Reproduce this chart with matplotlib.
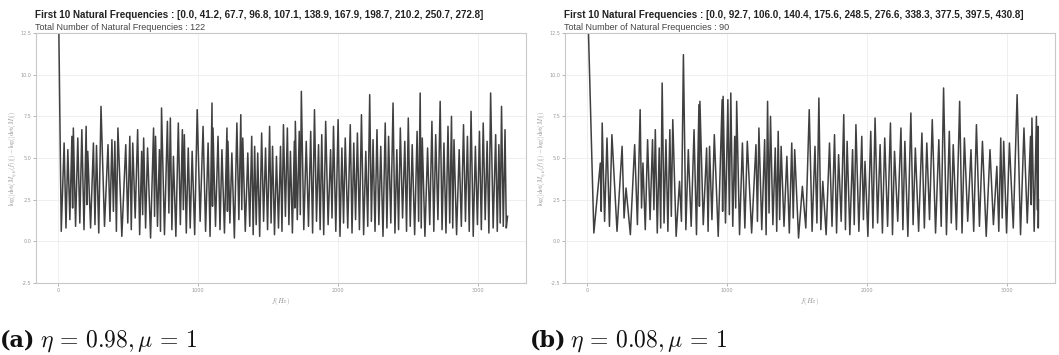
import matplotlib
matplotlib.use("Agg")
import matplotlib.pyplot as plt

plt.rcParams['mathtext.fontset'] = 'cm'

# natural frequencies (peak positions, Hz), peak heights and the dip before each peak
left_freq = [41.2, 67.7, 96.8, 107.1, 138.9, 167.9, 198.7, 210.2, 250.7, 272.8,
             305, 355, 383, 404, 426, 482, 511, 532, 567, 596,
             610, 638, 681, 695, 723, 738, 780, 801, 823, 858,
             887, 901, 929, 957, 993, 1035, 1071, 1099, 1106, 1142,
             1170, 1206, 1213, 1241, 1277, 1305, 1319, 1355, 1383, 1404,
             1426, 1454, 1482, 1511, 1532, 1560, 1589, 1610, 1638, 1660,
             1688, 1695, 1723, 1738, 1773,
             1805, 1832, 1861, 1884, 1912, 1947, 1968, 2001, 2028, 2052,
             2088, 2113, 2139, 2168, 2199, 2227, 2251, 2279, 2306, 2338,
             2362, 2394, 2421, 2446, 2478, 2503, 2531, 2566, 2588, 2603,
             2641, 2672, 2699, 2731, 2758, 2787, 2812, 2830, 2867, 2898,
             2926, 2952, 2983, 3012, 3039, 3067, 3092, 3128, 3151, 3170, 3195]
left_peak = [5.9, 5.5, 6.3, 6.8, 6.2, 6.7, 6.9, 5.4, 5.9, 5.75,
             8.1, 5.8, 6.1, 6.0, 6.8, 5.8, 6.3, 5.9, 6.7, 5.4,
             6.2, 5.6, 6.8, 6.3, 5.5, 8.0, 7.2, 7.4, 5.1, 7.1,
             6.7, 6.4, 5.6, 5.4, 7.9, 6.9, 5.9, 8.3, 6.8, 6.3,
             5.5, 6.8, 6.0, 5.3, 7.1, 7.6, 6.2, 5.3, 6.3, 5.7,
             5.3, 6.5, 5.6, 6.9, 5.7, 5.1, 5.7, 7.0, 6.8, 5.4,
             6.0, 7.2, 6.6, 9.0, 6.0,
             6.6, 7.9, 5.8, 6.4, 7.2, 5.5, 6.9, 7.3, 5.6, 6.2,
             7.0, 5.9, 6.5, 7.6, 5.4, 8.8, 6.1, 6.7, 5.7, 7.1,
             6.3, 8.3, 5.5, 6.8, 6.0, 7.4, 5.8, 6.6, 8.9, 6.2,
             5.6, 7.2, 6.4, 8.4, 5.9, 6.9, 7.5, 6.1, 5.5, 7.0,
             6.3, 7.8, 5.7, 6.6, 7.1, 6.0, 8.9, 6.4, 5.8, 8.1, 6.7]
left_dip = [0.6, 0.8, 1.3, 2.0, 0.9, 1.1, 0.7, 2.2, 0.8, 1.0,
            0.5, 0.9, 1.2, 1.8, 0.6, 0.3, 1.1, 0.7, 1.4, 0.4,
            1.6, 0.8, 0.2, 1.5, 0.9, 0.6, 0.4, 1.7, 0.7, 0.3,
            1.0, 1.9, 0.5, 0.8, 0.4, 1.2, 0.6, 0.3, 2.1, 0.9,
            0.7, 0.5, 1.8, 1.1, 0.2, 1.3, 1.9, 0.6, 0.9, 0.4,
            1.0, 0.3, 1.2, 0.7, 1.1, 0.4, 0.8, 0.6, 1.5, 1.0,
            0.5, 2.0, 1.3, 1.6, 0.7,
            0.9, 0.5, 1.2, 0.7, 0.4, 1.0, 1.4, 0.6, 0.3, 1.1,
            0.8, 0.5, 1.3, 0.7, 0.4, 0.9, 1.2, 0.6, 1.0, 0.3,
            0.8, 1.1, 0.5, 0.7, 1.4, 0.6, 0.9, 0.4, 1.2, 0.8,
            0.3, 1.0, 0.6, 1.3, 0.7, 0.5, 1.1, 0.8, 0.4, 0.9,
            1.2, 0.6, 0.3, 1.0, 0.7, 1.3, 0.5, 0.8, 0.6, 1.1, 0.9]
left_end = (3213, 1.5)

right_freq = [92.7, 106.0, 140.4, 175.6, 248.5, 276.6, 338.3, 377.5, 397.5, 430.8,
              466, 486, 514, 535, 562, 590, 611, 659, 687, 722,
              763, 798, 805, 853, 874, 908, 964, 971, 1005, 1026,
              1054, 1068, 1109, 1144, 1206, 1227, 1268, 1289, 1310, 1344,
              1365, 1386, 1427, 1462, 1483, 1538, 1587, 1628, 1656, 1684, 1732,
              1768, 1797, 1834, 1858, 1897, 1921, 1963, 1986, 2027, 2058,
              2094, 2127, 2168, 2197, 2243, 2271, 2314, 2346, 2393, 2428,
              2467, 2514, 2548, 2589, 2617, 2663, 2697, 2744, 2783, 2826,
              2880, 2929, 2957, 2978, 3019, 3074, 3123, 3170, 3180, 3212, 3224]
right_peak = [4.7, 7.1, 6.2, 6.4, 5.7, 3.2, 5.8, 7.9, 4.7, 6.1,
              6.1, 6.7, 5.6, 9.5, 6.1, 6.7, 7.3, 3.6, 11.2, 5.5,
              6.7, 8.2, 8.4, 5.6, 5.7, 6.4, 8.5, 8.7, 8.5, 8.9,
              6.3, 8.4, 5.9, 6.0, 5.8, 6.8, 6.1, 8.4, 7.5, 5.6,
              6.6, 5.7, 5.1, 5.9, 5.5, 3.3, 7.9, 5.7, 8.6, 3.6, 5.9,
              6.4, 5.2, 7.6, 6.0, 5.5, 7.0, 6.3, 4.8, 6.6, 7.4,
              5.8, 6.2, 7.1, 5.4, 6.8, 6.0, 7.7, 5.6, 6.5, 5.9,
              7.3, 6.1, 9.2, 6.6, 5.8, 8.4, 6.2, 5.5, 7.0, 6.0,
              5.5, 4.5, 6.2, 6.0, 5.9, 8.8, 6.8, 6.3, 7.4, 7.5, 6.9]
right_dip = [0.5, 1.8, 1.2, 0.9, 0.6, 1.4, 0.4, 1.0, 2.0, 0.7,
             1.3, 1.9, 0.5, 0.8, 1.1, 0.6, 1.5, 0.3, 1.2, 0.7,
             0.9, 0.4, 2.1, 1.0, 0.6, 1.3, 0.3, 1.8, 1.1, 1.6,
             0.9, 2.0, 0.4, 0.8, 0.5, 1.2, 0.7, 0.4, 1.7, 1.0,
             0.6, 1.3, 0.9, 0.5, 1.4, 0.2, 0.8, 0.6, 1.1, 0.7, 0.4,
             0.9, 0.5, 1.2, 0.7, 0.4, 1.0, 0.6, 1.3, 0.3, 0.8,
             1.1, 0.5, 0.9, 0.4, 1.2, 0.7, 0.3, 1.0, 0.6, 0.8,
             1.3, 0.5, 0.9, 0.4, 1.1, 0.7, 0.5, 1.2, 0.6, 0.9,
             0.3, 1.0, 0.6, 1.4, 0.5, 0.8, 0.4, 1.1, 2.2, 0.6, 1.9]
right_end = (3227, 2.5)

zero_value = 15.0  # value at f = 0, off the top of the plot

panels = [
    ("First 10 Natural Frequencies : [0.0, 41.2, 67.7, 96.8, 107.1, 138.9, 167.9, 198.7, 210.2, 250.7, 272.8]",
     "Total Number of Natural Frequencies : 122",
     r"$\eta\,=\,0.98, \mu\,=\,1$", "(a)", left_freq, left_peak, left_dip, left_end),
    ("First 10 Natural Frequencies : [0.0, 92.7, 106.0, 140.4, 175.6, 248.5, 276.6, 338.3, 377.5, 397.5, 430.8]",
     "Total Number of Natural Frequencies : 90",
     r"$\eta\,=\,0.08, \mu\,=\,1$", "(b)", right_freq, right_peak, right_dip, right_end),
]


def build_curve(freq, peak, dip, end):
    xs, ys = [0.0], [zero_value]
    prev = 0.0
    for f, p, d in zip(freq, peak, dip):
        xs.append((prev + f) / 2)
        ys.append(d)
        xs.append(f)
        ys.append(p)
        prev = f
    xs.append((prev + end[0]) / 2)
    ys.append(0.8)
    xs.append(end[0])
    ys.append(end[1])
    return xs, ys


fig = plt.figure(figsize=(10.59, 3.55), dpi=100)
lefts = [36 / 1059, 565 / 1059]

for (title, sub, cap, tag, fr, pk, dp, en), l in zip(panels, lefts):
    ax = fig.add_axes([l, 1 - 283 / 355, 490 / 1059, 250 / 355])
    xs, ys = build_curve(fr, pk, dp, en)
    ax.plot(xs, ys, color='#404040', lw=1.1, solid_joinstyle='round')
    ax.set_xlim(-160, 3345)
    ax.set_ylim(-2.5, 12.5)
    ax.set_xticks([0, 1000, 2000, 3000])
    ax.set_yticks([-2.5, 0.0, 2.5, 5.0, 7.5, 10.0, 12.5])
    ax.set_yticklabels(['-2.5', '0.0', '2.5', '5.0', '7.5', '10.0', '12.5'])
    ax.grid(True, color='#ececec', lw=0.6)
    ax.set_axisbelow(True)
    ax.tick_params(labelsize=3.5, colors='#999999', length=2, width=0.5, pad=1.5)
    for s in ax.spines.values():
        s.set_color('#c8c8c8')
        s.set_linewidth(0.8)
    ax.set_xlabel(r"$f(Hz)$", fontsize=5, color='#888888', labelpad=2)
    ax.set_ylabel(r"$\log(|\det(M_{\eta,\mu}(f))|)-\log(|\det(M)|)$",
                  fontsize=4.5, color='#888888', labelpad=1)
    x0 = l - 1 / 1059
    fig.text(x0, 1 - 15 / 355, title, fontsize=7.1, fontweight='bold',
             family='Liberation Sans', va='center', color='#222222')
    fig.text(x0, 1 - 27 / 355, sub, fontsize=6.5,
             family='Liberation Sans', va='center', color='#444444')
    cx = 0.0 if tag == "(a)" else 530 / 1059
    fig.text(cx, 1 - 341 / 355, tag, fontsize=16, fontweight='bold',
             family='DejaVu Serif', va='center', color='#111111')
    fig.text(cx + 40 / 1059, 1 - 341 / 355, cap, fontsize=17,
             va='center', color='#111111')

fig.savefig('out.png', dpi=100)
